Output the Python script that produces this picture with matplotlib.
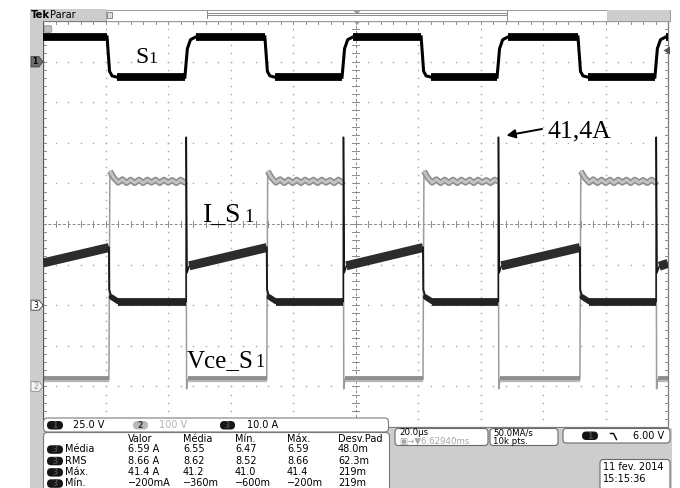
import numpy as np
import matplotlib
matplotlib.use("Agg")
import matplotlib.pyplot as plt
from matplotlib.patches import FancyBboxPatch, Rectangle, Polygon

# ---------------- acquisition settings ----------------
T_END = 200.0                      # record length shown, µs (10 div x 20 µs)
US_PER_DIV = 20.0
ch1_volts_per_div, ch1_offset_div = 25.0, 4.0     # S1 gate
ch2_volts_per_div, ch2_offset_div = 100.0, -4.0   # Vce_S1
ch3_amps_per_div, ch3_offset_div = 10.0, -2.0     # I_S1

# ---------------- switching instants (µs) ----------------
t_gate_off = [20.5, 71.0, 121.0, 171.2]
t_gate_on = [45.4, 95.7, 145.3, 195.8]
delay_off_us = 0.6
delay_on_us = 0.4

# ---------------- S1 gate voltage ----------------
s1_high_v, s1_low_v = 15.2, -9.6
s1_fall_dt = [0.0, 0.8, 1.6, 3.2]
s1_fall_v = [15.2, -6.0, -8.8, -9.6]
s1_rise_dt = [0.0, 0.8, 1.8, 3.5]
s1_rise_v = [-9.6, 8.0, 13.5, 15.2]

# ---------------- I_S1 current ----------------
i_off_a = 0.9
i_ramp_start_a = [10.4, 9.7, 9.7, 9.7, 9.6]
i_ramp_end_a = [14.2, 14.2, 14.2, 14.2, 10.3]
i_peak_a = 41.4
i_dip_a = 8.0
i_tail_dt = [0.1, 0.8, 1.6, 3.0]
i_tail_a = [3.8, 2.0, 1.3, 0.9]

# ---------------- Vce_S1 ----------------
vce_on_v = 17.0
vce_off_v = 505.0
vce_overshoot_v = 530.0
vce_undershoot_v = -6.0
vce_ripple_v = [8, -3, 5, -4, 4, -4, 4, -4, 4, -3, 4, -4, 4, -3, 3, -4, 4, -3, 3, -3]
vce_ripple_half_period_us = 1.33

# ---------------- measurement readout ----------------
meas_names = ["Média", "RMS", "Máx.", "Mín."]
meas_header = ["Valor", "Média", "Mín.", "Máx.", "Desv.Pad"]
meas_valor = ["6.59 A", "8.66 A", f"{i_peak_a:.1f} A", "\u2212200mA"]
meas_media = ["6.55", "8.62", "41.2", "\u2212360m"]
meas_min = ["6.47", "8.52", "41.0", "\u2212600m"]
meas_max = ["6.59", "8.66", "41.4", "\u2212200m"]
meas_std = ["48.0m", "62.3m", "219m", "219m"]


def d1(v):
    return ch1_offset_div + np.asarray(v, float) / ch1_volts_per_div


def d2(v):
    return ch2_offset_div + np.asarray(v, float) / ch2_volts_per_div


def d3(a):
    return ch3_offset_div + np.asarray(a, float) / ch3_amps_per_div


# ---------------- figure ----------------
W, H = 680, 488
PX0, PX1, PY0, PY1 = 43, 668, 21, 427
fig = plt.figure(figsize=(W / 100, H / 100), dpi=100)
fig.patch.set_facecolor("white")

ax = fig.add_axes([PX0 / W, 1 - PY1 / H, (PX1 - PX0) / W, (PY1 - PY0) / H], zorder=1)
ax.set_xlim(0, T_END)
ax.set_ylim(-5, 5)
ax.set_xticks([])
ax.set_yticks([])
for s in ax.spines.values():
    s.set_color("#7c7c7c")
    s.set_linewidth(0.9)
ax.spines["left"].set_color("#555555")

# graticule: dotted divisions
dot_c = "#a8a8a8"
xs_minor = np.arange(0, T_END + 0.01, US_PER_DIV / 5)
ys_minor = np.arange(-5, 5.001, 0.2)
for yv in [-4, -3, -2, -1, 1, 2, 3, 4]:
    ax.plot(xs_minor, np.full_like(xs_minor, yv), ls="none", marker="s", ms=1.0, color=dot_c, mew=0)
for xv in [20, 40, 60, 80, 120, 140, 160, 180]:
    ax.plot(np.full_like(ys_minor, xv), ys_minor, ls="none", marker="s", ms=1.0, color=dot_c, mew=0)
# center cross with ticks
ax.axhline(0, color="#8c8c8c", lw=0.7, ls=(0, (3, 2)))
ax.axvline(100, color="#8c8c8c", lw=0.7, ls=(0, (3, 2)))
for xv in xs_minor:
    ax.plot([xv, xv], [-0.07, 0.07], color="#8c8c8c", lw=0.7)
    ax.plot([xv, xv], [5, 4.93], color="#8c8c8c", lw=0.7)
for yv in ys_minor:
    ax.plot([99.0, 101.0], [yv, yv], color="#8c8c8c", lw=0.7)
    ax.plot([0, 1.0], [yv, yv], color="#8c8c8c", lw=0.7)
    ax.plot([T_END - 1.0, T_END], [yv, yv], color="#8c8c8c", lw=0.7)

# ---------------- channel 2: Vce_S1 ----------------
t_ioff = [t + delay_off_us for t in t_gate_off]
t_ion = [t + delay_on_us for t in t_gate_on]

vce_flat_on, vce_flat_off, vce_edges = [], [], []
t_prev = 0.0
for te, ts in zip(t_ioff, t_ion):
    vce_flat_on.append(([t_prev, te], [vce_on_v, vce_on_v]))
    vce_edges.append(([te, te + 0.3], [vce_on_v, vce_overshoot_v]))
    tt, vv = [te + 0.3], [vce_overshoot_v]
    k = 0
    while te + 0.3 + (k + 1) * vce_ripple_half_period_us < ts and k < len(vce_ripple_v):
        tt.append(te + 0.3 + (k + 1) * vce_ripple_half_period_us)
        vv.append(vce_off_v + vce_ripple_v[k])
        k += 1
    tt.append(ts)
    vv.append(vce_off_v)
    vce_flat_off.append((tt, vv))
    vce_edges.append(([ts, ts + 0.15, ts + 0.5], [vce_off_v, vce_undershoot_v, vce_on_v]))
    t_prev = ts + 0.5
vce_flat_on.append(([t_prev, T_END], [vce_on_v, vce_on_v]))

for tt, vv in vce_edges:
    ax.plot(tt, d2(vv), color="#9c9c9c", lw=1.1, zorder=2)
for tt, vv in vce_flat_on:
    ax.plot(tt, d2(vv), color="#8e8e8e", lw=4.2, solid_capstyle="butt", zorder=2)
    ax.plot(tt, d2(vv) - 0.03, color="#b6b6b6", lw=1.6, solid_capstyle="butt", zorder=2)
for tt, vv in vce_flat_off:
    ax.plot(tt, d2(vv), color="#8e8e8e", lw=4.4, solid_capstyle="butt", zorder=2)
    ax.plot(tt, d2(vv), color="#c4c4c4", lw=2.0, solid_capstyle="butt", zorder=2)

# ---------------- channel 3: I_S1 ----------------
cond_start = [0.0] + t_ion
cond_end = t_ioff + [T_END]
for k, (ts, te) in enumerate(zip(cond_start, cond_end)):
    if k == 0:
        ramp_t0 = ts
    else:
        ax.plot([ts, ts + 0.05, ts + 0.3, ts + 1.0],
                d3([i_off_a, i_peak_a, i_dip_a, i_ramp_start_a[k]]),
                color="#151515", lw=1.1, zorder=3)
        ramp_t0 = ts + 1.0
    ax.plot([ramp_t0, te], d3([i_ramp_start_a[k], i_ramp_end_a[k]]),
            color="#2c2c2c", lw=6.5, solid_capstyle="butt", zorder=3)
    if k < len(t_ioff):
        ax.plot([te] + [te + d for d in i_tail_dt],
                d3([i_ramp_end_a[k]] + i_tail_a), color="#1a1a1a", lw=1.4, zorder=3)
        nxt = cond_start[k + 1]
        ax.plot([te + i_tail_dt[-1], nxt], d3([i_off_a, i_off_a]),
                color="#222222", lw=5.6, solid_capstyle="butt", zorder=3)
        ax.plot([te + 0.8, te + i_tail_dt[-1]], d3([2.0, i_off_a]),
                color="#222222", lw=4.0, solid_capstyle="round", zorder=3)

# ---------------- channel 1: S1 gate ----------------
t_prev = 0.0
for tf, tr in zip(t_gate_off, t_gate_on):
    ax.plot([t_prev, tf], d1([s1_high_v, s1_high_v]), color="black", lw=5.6,
            solid_capstyle="butt", zorder=4)
    ax.plot(tf + np.array(s1_fall_dt), d1(s1_fall_v), color="black", lw=2.2, zorder=4)
    ax.plot([tf + s1_fall_dt[-1], tr], d1([s1_low_v, s1_low_v]), color="black", lw=5.6,
            solid_capstyle="butt", zorder=4)
    ax.plot(tr + np.array(s1_rise_dt), d1(s1_rise_v), color="black", lw=2.2, zorder=4)
    t_prev = tr + s1_rise_dt[-1]
ax.plot([t_prev, T_END], d1([s1_high_v, s1_high_v]), color="black", lw=5.6,
        solid_capstyle="butt", zorder=4)

# arrow to the turn-on current peak
t_peak = t_ion[2]
ax.annotate("", xy=(t_peak + 2.6, d3(i_peak_a) + 0.04), xycoords="data",
            xytext=(542, H - 129), textcoords="figure pixels",
            arrowprops=dict(arrowstyle="-|>", color="black", lw=1.4, mutation_scale=13,
                            shrinkA=0, shrinkB=0), zorder=6)

# ---------------- screen furniture (pixel coordinates) ----------------
ov = fig.add_axes([0, 0, 1, 1], zorder=5)
ov.set_xlim(0, W)
ov.set_ylim(H, 0)
ov.axis("off")
ov.patch.set_alpha(0)

GRAY = "#cdcdcd"
SANS = "DejaVu Sans"
SERIF = "Liberation Serif"

# side and bottom panels
ov.add_patch(Rectangle((30, 9), 13, H - 9, facecolor=GRAY, edgecolor="none"))
ov.add_patch(Rectangle((30, 428), 642, H - 428, facecolor=GRAY, edgecolor="none"))
ov.add_patch(Rectangle((30, 9), 76, 12, facecolor=GRAY, edgecolor="none"))
ov.add_patch(Rectangle((106, 9.5), 564, 11, facecolor="white", edgecolor="#9a9a9a", lw=0.7))
ov.add_patch(Rectangle((607, 9.5), 63, 11, facecolor=GRAY, edgecolor="none"))
ov.plot([207, 507], [13.2, 13.2], color="#8a8a8a", lw=0.7)
ov.plot([207, 507], [15.4, 15.4], color="#8a8a8a", lw=0.7)
ov.plot([207, 207], [11, 18], color="#8a8a8a", lw=0.7)
ov.plot([507, 507], [9.5, 20.5], color="#8a8a8a", lw=0.7)
ov.add_patch(Rectangle((107, 12), 5, 6, facecolor="#dddddd", edgecolor="#777777", lw=0.6))
ov.add_patch(Polygon([[353, 10.5], [361, 10.5], [357, 14]], closed=True, facecolor="#9a9a9a",
                     edgecolor="none"))
ov.add_patch(Polygon([[353.5, 21], [360.5, 21], [357, 25]], closed=True, facecolor="#9a9a9a",
                     edgecolor="none"))
ov.text(31, 15, "Tek", fontsize=7.2, fontweight="bold", family=SANS, va="center", ha="left")
ov.text(50, 15, "Parar", fontsize=7, family=SANS, va="center", ha="left")

# channel ground markers on the left
ov.add_patch(Polygon([[31, 56.5], [39, 56.5], [43, 61.7], [39, 67], [31, 67]], closed=True,
                     facecolor="#6e6e6e", edgecolor="#444444", lw=0.6))
ov.text(35, 62, "1", fontsize=5.5, fontweight="bold", family=SANS, ha="center", va="center",
        color="black")
y3 = 224 - 40.6 * ch3_offset_div
ov.add_patch(Polygon([[31, y3 - 5], [39, y3 - 5], [43, y3], [39, y3 + 5], [31, y3 + 5]], closed=True,
                     facecolor="white", edgecolor="#555555", lw=0.7))
ov.text(35.5, y3 + 0.3, "3", fontsize=5.5, family=SANS, ha="center", va="center", color="black")
y2 = 224 - 40.6 * ch2_offset_div
ov.add_patch(Polygon([[31, y2 - 5], [39, y2 - 5], [43, y2], [39, y2 + 5], [31, y2 + 5]], closed=True,
                     facecolor="#f2f2f2", edgecolor="#9a9a9a", lw=0.7))
ov.text(35.5, y2 + 0.3, "2", fontsize=5.5, family=SANS, ha="center", va="center", color="#8a8a8a")
ov.add_patch(FancyBboxPatch((45, 26.5), 6, 5, boxstyle="round,pad=0.8,rounding_size=1.5",
                            facecolor="#bdbdbd", edgecolor="#8a8a8a", lw=0.5))
ov.add_patch(Polygon([[670, 46.5], [670, 54.5], [663.5, 50.5]], closed=True, facecolor="#555555",
                     edgecolor="none"))

# annotation labels
ov.text(135, 63, "S", fontsize=17, family=SERIF, ha="left", va="baseline")
ov.text(148, 63, "1", fontsize=12.5, family=SERIF, ha="left", va="baseline")
ov.text(203, 222, "I_S", fontsize=20, family=SERIF, ha="left", va="baseline")
ov.text(244, 222, "1", fontsize=13.5, family=SERIF, ha="left", va="baseline")
ov.text(187, 367, "Vce_S", fontsize=18, family=SERIF, ha="left", va="baseline")
ov.text(255, 367, "1", fontsize=13, family=SERIF, ha="left", va="baseline")
ov.text(547, 137, f"{i_peak_a:.1f}".replace(".", ",") + "A", fontsize=18.5, family=SERIF,
        ha="left", va="baseline")


def pill(x, y, w, h, fc, label, tc, ec="none"):
    ov.add_patch(FancyBboxPatch((x, y), w, h, boxstyle=f"round,pad=0,rounding_size={h / 2}",
                                facecolor=fc, edgecolor=ec, lw=0.6))
    ov.text(x + w / 2, y + h / 2 + 0.3, label, fontsize=5.5, fontweight="bold", family=SANS,
            ha="center", va="center", color=tc)


# channel scale bar
ov.add_patch(FancyBboxPatch((43.5, 418), 345, 14, boxstyle="round,pad=0,rounding_size=4",
                            facecolor="white", edgecolor="#7a7a7a", lw=0.8))
pill(47, 421, 16, 8.5, "#151515", "1", "#4a4a4a")
ov.text(73, 425.3, f"{ch1_volts_per_div:.1f} V", fontsize=7, family=SANS, va="center")
pill(133, 421, 15, 8.5, "#b9b9b9", "2", "#333333")
ov.text(159, 425.3, f"{ch2_volts_per_div:.0f} V", fontsize=7, family=SANS, va="center",
        color="#b3b3b3")
pill(220, 421, 15, 8.5, "#151515", "3", "#4a4a4a")
ov.text(247, 425.3, f"{ch3_amps_per_div:.1f} A", fontsize=7, family=SANS, va="center")

# measurement table
ov.add_patch(FancyBboxPatch((43.5, 432.5), 346, 70, boxstyle="round,pad=0,rounding_size=4",
                            facecolor="white", edgecolor="#7a7a7a", lw=0.8))
col_x = [128, 183, 235, 287, 338]
for cx, htxt in zip(col_x, meas_header):
    ov.text(cx, 438.5, htxt, fontsize=7, family=SANS, va="center")
row_y = [449.5, 461, 472.3, 483.5]
for ry, name, a, b, c, d, e in zip(row_y, meas_names, meas_valor, meas_media, meas_min,
                                   meas_max, meas_std):
    pill(47, ry - 4.2, 16, 8.5, "#151515", "3", "#4a4a4a")
    ov.text(65, ry, name, fontsize=7, family=SANS, va="center")
    for cx, txt in zip(col_x, [a, b, c, d, e]):
        ov.text(cx, ry, txt, fontsize=7, family=SANS, va="center")

# timebase, sample rate, trigger and date boxes
ov.add_patch(FancyBboxPatch((395, 428.5), 93, 17, boxstyle="round,pad=0,rounding_size=3.5",
                            facecolor="white", edgecolor="#6a6a6a", lw=0.8))
ov.text(399, 432.6, f"{US_PER_DIV:.1f}\u00b5s", fontsize=6.2, family=SANS, va="center")
ov.text(399, 441.8, "\u25a3\u2192\u25bc6.62940ms", fontsize=6.2, family=SANS, va="center",
        color="#a6a6a6")
ov.add_patch(FancyBboxPatch((490, 428.5), 68, 17, boxstyle="round,pad=0,rounding_size=3.5",
                            facecolor="white", edgecolor="#6a6a6a", lw=0.8))
ov.text(493, 432.6, "50.0MA/s", fontsize=6.2, family=SANS, va="center")
ov.text(493, 441.8, "10k pts.", fontsize=6.2, family=SANS, va="center")
ov.add_patch(FancyBboxPatch((563, 428.5), 107, 14.5, boxstyle="round,pad=0,rounding_size=3.5",
                            facecolor="white", edgecolor="#6a6a6a", lw=0.8))
pill(582, 431.5, 16, 8.5, "#151515", "1", "#4a4a4a")
ov.plot([610.5, 613.5, 616.5], [433.5, 433.5, 439.5], color="black", lw=1.0)
ov.text(633, 435.7, "6.00 V", fontsize=7, family=SANS, va="center")
ov.add_patch(FancyBboxPatch((600, 459.5), 70, 40, boxstyle="round,pad=0,rounding_size=3.5",
                            facecolor="white", edgecolor="#6a6a6a", lw=0.8))
ov.text(603, 467.3, "11 fev. 2014", fontsize=7, family=SANS, va="center")
ov.text(603, 479, "15:15:36", fontsize=7, family=SANS, va="center")

fig.savefig("out.png", dpi=100, facecolor="white")
